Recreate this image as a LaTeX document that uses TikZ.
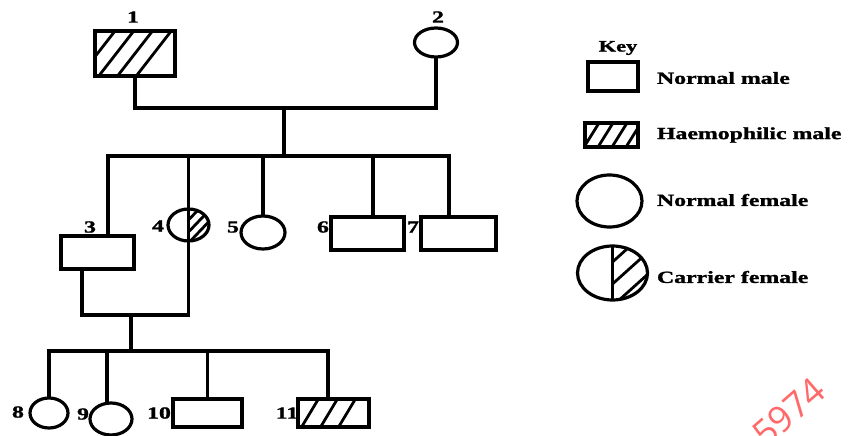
\documentclass[tikz,border=0pt]{standalone}
\usepackage{fontspec}
\setmainfont{Liberation Serif}[BoldFeatures={FakeBold=1.2}]
\newfontfamily\marksans{Open Sans}
\usetikzlibrary{shapes.geometric}

\begin{document}
\begin{tikzpicture}[x=1pt,y=-1pt,line width=3.2pt,
  every node/.style={inner sep=0pt,outer sep=0pt},
  male/.style 2 args={draw,rectangle,minimum width=#1,minimum height=#2},
  female/.style 2 args={draw,ellipse,minimum width=#1,minimum height=#2},
  hatchline/.style={line width=2.8pt},
  % parallel strokes: offsets from the centre, half run and half rise of a stroke
  hatch/.style n args={3}{path picture={
    \foreach \o in {#1}{
      \draw[hatchline] ([xshift=\o pt]path picture bounding box.center)
        ++(-#2,#3) -- ++(2*#2,-2*#3);}}},
  % carrier: vertical divider, strokes on the right half only
  carrier/.style n args={2}{path picture={
    \draw (path picture bounding box.north) -- (path picture bounding box.south);
    \clip (path picture bounding box.north) rectangle (path picture bounding box.south east);
    \foreach \o in {#1}{
      \draw[hatchline] ([yshift=\o pt]path picture bounding box.center)
        ++(-40,40*#2) -- ++(80,-80*#2);}}},
  lbl/.style={font=\bfseries\fontsize{17}{17}\selectfont,xscale=1.4},
  keytext/.style={lbl,anchor=west}]

\useasboundingbox (0,0) rectangle (854,436);
\fill[white] (0,0) rectangle (854,436);

% generation I
\node[male={80pt}{45pt},hatch={-37.5,-18.75,0,18.75}{23.3}{30}] (p1) at (135,53.5) {};
\node[female={43pt}{29pt}] (p2) at (436,42.5) {};

% generation II
\node[male={73pt}{33pt}] (p3) at (97.5,252.5) {};
\node[female={41pt}{32pt},carrier={5,-7,-18}{1.05}] (p4) at (188.5,225) {};
\node[female={44pt}{33pt}] (p5) at (263,232.5) {};
\node[male={73pt}{33pt}] (p6) at (367.5,233.5) {};
\node[male={75pt}{33pt}] (p7) at (458.5,233.5) {};

% generation III
\node[female={38pt}{30pt}] (p8) at (49,413) {};
\node[female={42pt}{32pt}] (p9) at (111,419) {};
\node[male={69pt}{28pt}] (p10) at (207.5,413) {};
\node[male={71pt}{28pt},hatch={-23.5,-4.5,13.5}{12}{20}] (p11) at (333.5,413) {};

% numbers
\node[lbl] (n1) at (133,17) {1};
\node[lbl] (n2) at (438,17) {2};
\node[lbl] (n3) at (90,227) {3};
\node[lbl] (n4) at (158,226) {4};
\node[lbl] (n5) at (233,227) {5};
\node[lbl] (n6) at (323,227) {6};
\node[lbl] (n7) at (413,227) {7};
\node[lbl] (n8) at (18,412) {8};
\node[lbl] (n9) at (83,414) {9};
\node[lbl] (n10) at (159,413) {10};
\node[lbl] (n11) at (287,413) {11};

% junction points
\coordinate (m12) at (284,108);
\coordinate (s1) at (284,156);
\coordinate (m34) at (131,315);
\coordinate (s2) at (131,351);

% marriage 1 x 2 and their children
\draw (p1.south) |- (m12) -| (p2.south);
\draw (m12) -- (s1);
\draw ([xshift=10.5pt]p3.north) |- (s1) -| ([xshift=-9.5pt]p7.north);
\draw (p4.north) -- (p4.north |- s1);
\draw (p5.north) -- (p5.north |- s1);
\draw ([xshift=5.5pt]p6.north) -- ([xshift=5.5pt]p6.north |- s1);

% marriage 3 x 4 and their children
\draw ([xshift=-15.5pt]p3.south) |- (m34) -| (p4.south);
\draw (m34) -- (s2);
\draw (p8.north) |- (s2) -| ([xshift=-5.5pt]p11.north);
\draw ([xshift=-4pt]p9.north) -- ([xshift=-4pt]p9.north |- s2);
\draw (p10.north) -- (p10.north |- s2);

% key
\node[font=\bfseries\fontsize{16}{16}\selectfont,xscale=1.4] (keyt) at (618,48) {Key};
\node[male={50pt}{29pt}] (k1) at (613,76.5) {};
\node[male={53pt}{24pt},hatch={-20,-6,8,22}{10}{16}] (k2) at (611.5,135) {};
\node[female={65pt}{52pt}] (k3) at (609.5,201) {};
\node[female={70pt}{54pt},carrier={11,-11,-33}{0.9}] (k4) at (612.5,273) {};
\node[keytext] (t1) at (657,78) {Normal male};
\node[keytext] (t2) at (657,135) {Haemophilic male};
\node[keytext] (t3) at (657,200) {Normal female};
\node[keytext] (t4) at (657,277) {Carrier female};

% stamp in the corner
\node[font=\marksans\fontsize{36}{36}\selectfont,text={rgb,255:red,255;green,105;blue,105},rotate=41] (stamp) at (789,412) {5974};
\end{tikzpicture}
\end{document}
